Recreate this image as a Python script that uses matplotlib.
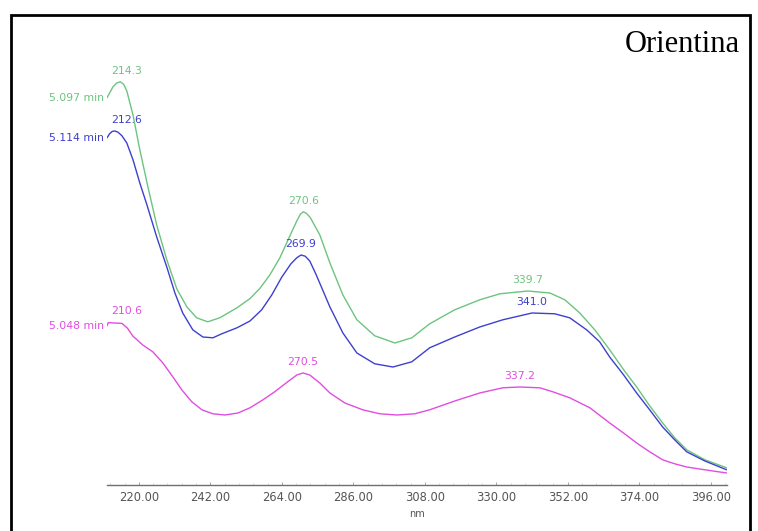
import matplotlib
matplotlib.use("Agg")
import matplotlib.pyplot as plt
from matplotlib.patches import Rectangle
from matplotlib.ticker import MultipleLocator, FixedLocator

# UV spectra (nm vs. absorbance, arbitrary units) of three chromatographic peaks
retention_times = ["5.097 min", "5.114 min", "5.048 min"]
colors = ["#6cc47e", "#3f3fcf", "#e04ee0"]

wl_green = [210.2, 212.0, 213.2, 214.3, 215.3, 216.3, 218.2, 220.3, 222.8, 225.5,
            228.6, 231.7, 234.8, 237.8, 241.2, 244.9, 250.2, 254.2, 257.2, 260.3,
            263.4, 266.5, 268.6, 269.7, 270.6, 271.6, 272.8, 275.7, 278.8, 282.8,
            287.1, 292.6, 298.8, 304.0, 309.5, 317.2, 324.9, 331.1, 339.7, 346.5,
            351.1, 355.7, 360.3, 364.9, 369.2, 373.2, 377.2, 381.2, 384.9, 388.6,
            394.2, 400.9]
ab_green = [0.968, 0.995, 1.005, 1.008, 1.002, 0.985, 0.925, 0.838, 0.745, 0.650,
            0.563, 0.490, 0.445, 0.418, 0.408, 0.418, 0.443, 0.466, 0.491, 0.525,
            0.568, 0.623, 0.660, 0.677, 0.683, 0.679, 0.668, 0.625, 0.555, 0.475,
            0.413, 0.373, 0.355, 0.368, 0.403, 0.438, 0.463, 0.478, 0.485, 0.480,
            0.463, 0.430, 0.388, 0.338, 0.288, 0.245, 0.198, 0.155, 0.118, 0.088,
            0.063, 0.043]

wl_blue = [210.2, 211.0, 211.8, 212.6, 213.6, 214.8, 216.3, 218.2, 220.3, 222.5,
           225.5, 228.6, 231.1, 233.5, 236.6, 239.7, 242.8, 245.5, 250.2, 254.2,
           257.8, 260.9, 264.0, 266.8, 268.6, 269.9, 271.2, 272.6, 274.5, 278.8,
           282.8, 287.1, 292.6, 298.2, 304.0, 309.5, 317.2, 324.9, 332.0, 341.0,
           348.0, 352.6, 357.8, 361.8, 364.9, 369.2, 373.2, 377.2, 381.2, 384.9,
           388.6, 394.2, 400.9]
ab_blue = [0.868, 0.878, 0.884, 0.885, 0.882, 0.873, 0.855, 0.813, 0.755, 0.700,
           0.620, 0.545, 0.480, 0.430, 0.388, 0.370, 0.368, 0.378, 0.393, 0.410,
           0.438, 0.475, 0.520, 0.553, 0.568, 0.575, 0.572, 0.560, 0.527, 0.445,
           0.380, 0.330, 0.303, 0.295, 0.308, 0.343, 0.370, 0.395, 0.413, 0.430,
           0.428, 0.418, 0.388, 0.358, 0.320, 0.275, 0.230, 0.188, 0.145, 0.113,
           0.083, 0.060, 0.038]

wl_pink = [210.2, 210.6, 212.5, 214.8, 216.5, 218.2, 221.2, 224.3, 227.4, 230.5,
           233.2, 236.3, 239.4, 242.8, 246.5, 250.5, 254.2, 258.2, 261.8, 265.8,
           268.6, 270.5, 272.6, 275.7, 278.8, 283.4, 288.9, 294.2, 299.4, 304.9,
           309.5, 317.2, 324.9, 332.0, 337.2, 343.4, 347.4, 352.6, 358.8, 364.9,
           369.5, 373.2, 377.2, 381.2, 384.9, 388.6, 394.2, 400.9]
ab_pink = [0.398, 0.406, 0.405, 0.404, 0.392, 0.372, 0.350, 0.333, 0.305, 0.270,
           0.238, 0.208, 0.188, 0.178, 0.175, 0.180, 0.193, 0.213, 0.233, 0.258,
           0.275, 0.280, 0.275, 0.255, 0.230, 0.205, 0.188, 0.178, 0.175, 0.178,
           0.188, 0.210, 0.230, 0.243, 0.245, 0.243, 0.233, 0.218, 0.193, 0.155,
           0.128, 0.105, 0.083, 0.063, 0.053, 0.045, 0.038, 0.030]

# labelled maxima (nm) for each spectrum
peaks_green = [214.3, 270.6, 339.7]
peaks_blue = [212.6, 269.9, 341.0]
peaks_pink = [210.6, 270.5, 337.2]

xticks = [220, 242, 264, 286, 308, 330, 352, 374, 396]

W, H = 758, 531
fig = plt.figure(figsize=(W / 100, H / 100), dpi=100)
fig.patch.set_facecolor("white")

# frame around the panel
fig.patches.append(Rectangle((10.5 / W, -0.05), 739.5 / W, 1.05 - 15 / H,
                             transform=fig.transFigure, fill=False,
                             edgecolor="black", linewidth=2.0))

ax = fig.add_axes([107 / W, 1 - 485 / H, 620 / W, 425 / H])
ax.set_xlim(210.2, 401.0)
ax.set_ylim(0, 1.0625)
for s in ["top", "right", "left"]:
    ax.spines[s].set_visible(False)
ax.spines["bottom"].set_color("#707070")
ax.spines["bottom"].set_linewidth(1.0)
ax.set_yticks([])
ax.xaxis.set_major_locator(FixedLocator(xticks))
ax.xaxis.set_minor_locator(MultipleLocator(4.4))
ax.set_xticklabels([f"{t:.2f}" for t in xticks])
ax.tick_params(axis="x", which="major", direction="in", length=2.5, width=0.6,
               color="#999999", labelsize=8.3, labelcolor="#555555", pad=4)
ax.tick_params(axis="x", which="minor", direction="in", length=1.2, width=0.4,
               color="#bbbbbb")
ax.set_xlabel("nm", fontsize=7, color="#555555", labelpad=4)

series = [(wl_green, ab_green, peaks_green),
          (wl_blue, ab_blue, peaks_blue),
          (wl_pink, ab_pink, peaks_pink)]

for (wl, ab, peaks), rt, c in zip(series, retention_times, colors):
    ax.plot(wl, ab, color=c, linewidth=1.0, solid_joinstyle="round",
            solid_capstyle="round")
    ax.annotate(rt, (wl[0], ab[0]), xytext=(-2, 0), textcoords="offset points",
                ha="right", va="center", fontsize=7.8, color=c)
    for p in peaks:
        yv = ab[wl.index(p)]
        # labels near the left edge are pushed right so they clear the start label
        lx = max(p, 216.3)
        ax.annotate(f"{p:.1f}", (lx, yv), xytext=(0, 8),
                    textcoords="offset points", ha="center", va="center",
                    fontsize=7.8, color=c, annotation_clip=False)

fig.text(740 / W, 1 - 45 / H, "Orientina", ha="right", va="center",
         family="Liberation Serif", fontsize=22, color="black")

fig.savefig("out.png", dpi=100, facecolor="white")
